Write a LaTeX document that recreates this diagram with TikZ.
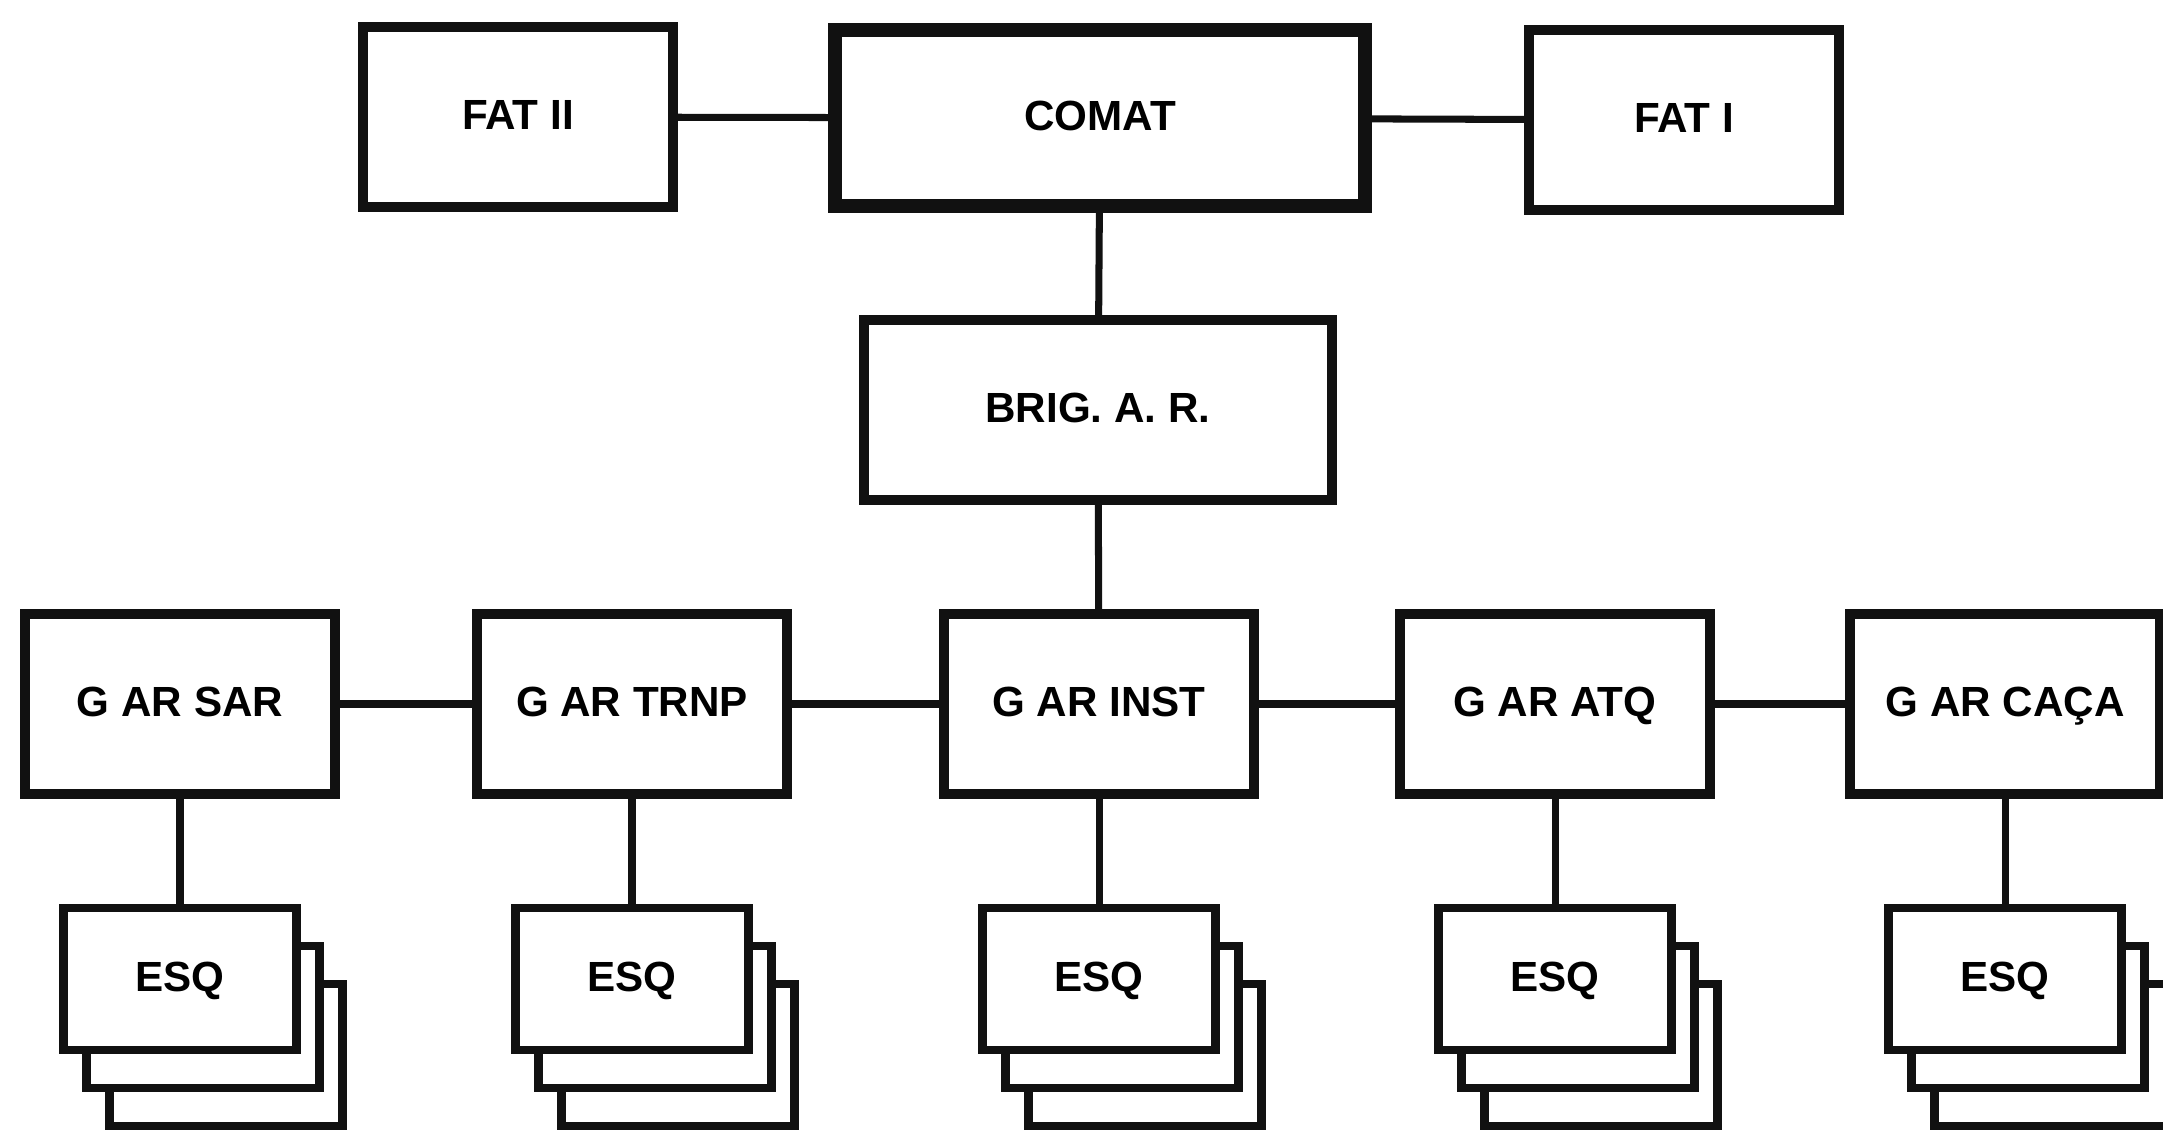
\documentclass[tikz,border=0pt]{standalone}
\usepackage{fontspec}
\setsansfont{Liberation Sans}
\usetikzlibrary{positioning}
\definecolor{ink}{HTML}{111111}

\tikzset{
  unit/.style={draw=ink,line width=2.6pt,fill=white,inner sep=0pt,
               text height=0.72em,text depth=0pt,
               minimum width=3.1cm,minimum height=1.8cm},
  cmdbox/.style={unit,line width=3.8pt,minimum width=5.3cm,minimum height=1.76cm},
  esqbox/.style={draw=ink,line width=2.3pt,fill=white,inner sep=0pt,
                 text height=0.72em,text depth=0pt,
                 minimum width=2.33cm,minimum height=1.42cm},
  link/.style={draw=ink,line width=2pt},
}

\begin{document}
\begin{tikzpicture}[font=\sffamily\bfseries\fontsize{12}{14}\selectfont]
  \useasboundingbox (0,0) rectangle (21.63,-11.30);

  % command level
  \node[cmdbox] (comat) at (11.00,-1.18) {COMAT};
  \node[unit]   (fat2)  at (5.18,-1.17) {FAT II};
  \node[unit]   (fat1)  at (16.84,-1.20) {FAT I};
  \draw[link] (fat2) -- (comat);
  \draw[link] (comat) -- (fat1);

  % brigade
  \node[unit,minimum width=4.68cm] (brig) at (10.98,-4.10) {BRIG. A. R.};
  \draw[link] (comat) -- (brig);

  % groups, each one with a stack of three squadrons
  \foreach \nm/\x/\txt in {sar/1.80/G AR SAR, trnp/6.32/G AR TRNP, inst/10.99/G AR INST,
                           atq/15.55/G AR ATQ, caca/20.05/G AR CAÇA}{
    \node[unit] (\nm) at (\x,-7.04) {\txt};
    \node[esqbox] (\nm-esq3) at (\x+0.46,-10.55) {};
    \node[esqbox] (\nm-esq2) at (\x+0.23,-10.17) {};
    \node[esqbox] (\nm-esq)  at (\x,-9.79) {ESQ};
    \draw[link] (\nm) -- (\nm-esq);
  }
  \draw[link] (brig) -- (inst);
  \foreach \a/\b in {sar/trnp,trnp/inst,inst/atq,atq/caca}
    \draw[link] (\a) -- (\b);
\end{tikzpicture}
\end{document}
